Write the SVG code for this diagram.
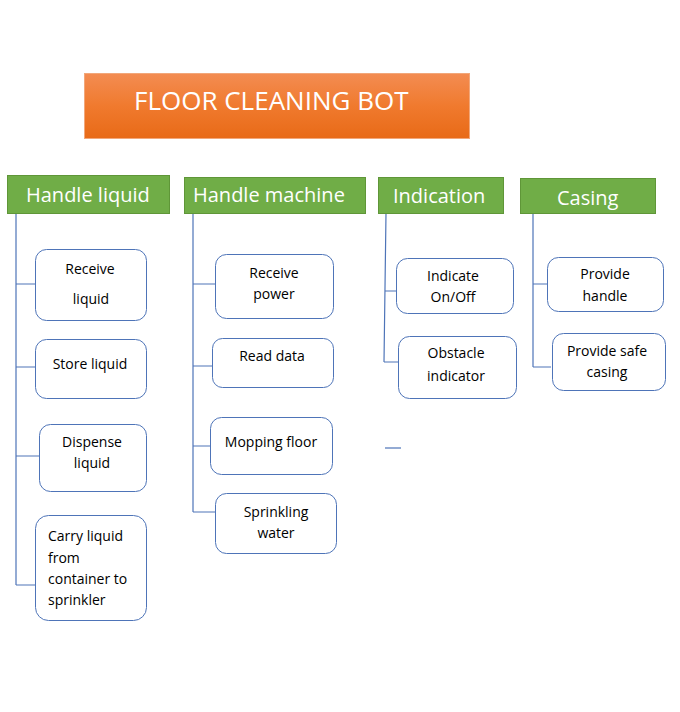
<svg xmlns="http://www.w3.org/2000/svg" width="680" height="712" viewBox="0 0 680 712">
<style>
.hdr{fill:#70AD47;stroke:#5F9638;stroke-width:1}
.ht{font-family:"Open Sans","Liberation Sans",sans-serif;font-size:20px;fill:#ffffff}
.box{fill:#ffffff;stroke:#4E74B8;stroke-width:1}
.bt{font-family:"Open Sans","Liberation Sans",sans-serif;font-size:14px;fill:#000000;text-anchor:middle}
.btl{font-family:"Open Sans","Liberation Sans",sans-serif;font-size:14px;fill:#000000}
.ln{stroke:#4E74B8;stroke-width:1.2;fill:none}
</style>
<defs>
<linearGradient id="og" x1="0" y1="0" x2="0" y2="1">
<stop offset="0" stop-color="#F38C52"/>
<stop offset="0.5" stop-color="#F07A2E"/>
<stop offset="1" stop-color="#E86A17"/>
</linearGradient>
</defs>
<rect width="680" height="712" fill="#ffffff"/>
<g id="title">
<rect x="84.500" y="73.500" width="385" height="65" fill="url(#og)" stroke="#F2A77A" stroke-width="1"/>
<text x="134" y="110" style="font-family:'Open Sans','Liberation Sans',sans-serif;font-size:26px;fill:#ffffff">FLOOR CLEANING BOT</text>
</g>
<g id="connectors">
<path class="ln" d="M16 214 V585 M16 284 H35 M16 367 H35 M16 456 H39 M16 585 H35"/>
<path class="ln" d="M193 213 V512 M193 284 H216 M193 366 H212 M193 446 H210 M193 512 H215"/>
<path class="ln" d="M386 213 L384 362 M385 291 H397 M384 362 H401"/>
<path class="ln" d="M385 448 H401"/>
<path class="ln" d="M533 213 V367 M533 284 H547 M533 367 H551"/>
</g>
<g id="handle-liquid">
<rect class="hdr" x="7.500" y="175.500" width="162" height="38"/>
<text class="ht" x="26" y="202">Handle liquid</text>
</g>
<g id="handle-machine">
<rect class="hdr" x="184.500" y="177.500" width="181" height="36"/>
<text class="ht" x="193" y="202">Handle machine</text>
</g>
<g id="indication">
<rect class="hdr" x="378.500" y="177.500" width="125" height="36"/>
<text class="ht" x="393" y="203">Indication</text>
</g>
<g id="casing">
<rect class="hdr" x="520.500" y="178.500" width="135" height="35"/>
<text class="ht" x="557" y="205">Casing</text>
</g>
<g id="receive-liquid">
<rect class="box" x="35.500" y="249.500" width="111" height="71" rx="11"/>
<text class="bt" x="90" y="274">Receive</text>
<text class="bt" x="91" y="304">liquid</text>
</g>
<g id="store-liquid">
<rect class="box" x="35.500" y="339.500" width="111" height="59" rx="11"/>
<text class="bt" x="90" y="369">Store liquid</text>
</g>
<g id="dispense-liquid">
<rect class="box" x="39.500" y="424.500" width="107" height="67" rx="11"/>
<text class="bt" x="92" y="447">Dispense</text>
<text class="bt" x="92" y="468">liquid</text>
</g>
<g id="carry-liquid">
<rect class="box" x="35.500" y="515.500" width="111" height="105" rx="13"/>
<text class="btl" x="48" y="541">Carry liquid</text>
<text class="btl" x="48" y="563">from</text>
<text class="btl" x="48" y="584">container to</text>
<text class="btl" x="48" y="605">sprinkler</text>
</g>
<g id="receive-power">
<rect class="box" x="215.500" y="254.500" width="118" height="64" rx="11"/>
<text class="bt" x="274" y="278">Receive</text>
<text class="bt" x="274" y="299">power</text>
</g>
<g id="read-data">
<rect class="box" x="212.500" y="338.500" width="121" height="49" rx="10"/>
<text class="bt" x="272" y="361">Read data</text>
</g>
<g id="mopping-floor">
<rect class="box" x="210.500" y="417.500" width="122" height="57" rx="11"/>
<text class="bt" x="271" y="447">Mopping floor</text>
</g>
<g id="sprinkling-water">
<rect class="box" x="215.500" y="493.500" width="121" height="60" rx="11"/>
<text class="bt" x="276" y="517">Sprinkling</text>
<text class="bt" x="276" y="538">water</text>
</g>
<g id="indicate-onoff">
<rect class="box" x="396.500" y="258.500" width="117" height="55" rx="11"/>
<text class="bt" x="453" y="281">Indicate</text>
<text class="bt" x="453" y="302">On/Off</text>
</g>
<g id="obstacle-indicator">
<rect class="box" x="398.500" y="336.500" width="118" height="62" rx="11"/>
<text class="bt" x="456" y="358">Obstacle</text>
<text class="bt" x="456" y="381">indicator</text>
</g>
<g id="provide-handle">
<rect class="box" x="547.500" y="257.500" width="116" height="54" rx="11"/>
<text class="bt" x="605" y="279">Provide</text>
<text class="bt" x="605" y="301">handle</text>
</g>
<g id="provide-safe-casing">
<rect class="box" x="552.500" y="333.500" width="113" height="57" rx="11"/>
<text class="bt" x="607" y="356">Provide safe</text>
<text class="bt" x="607" y="377">casing</text>
</g>
</svg>
